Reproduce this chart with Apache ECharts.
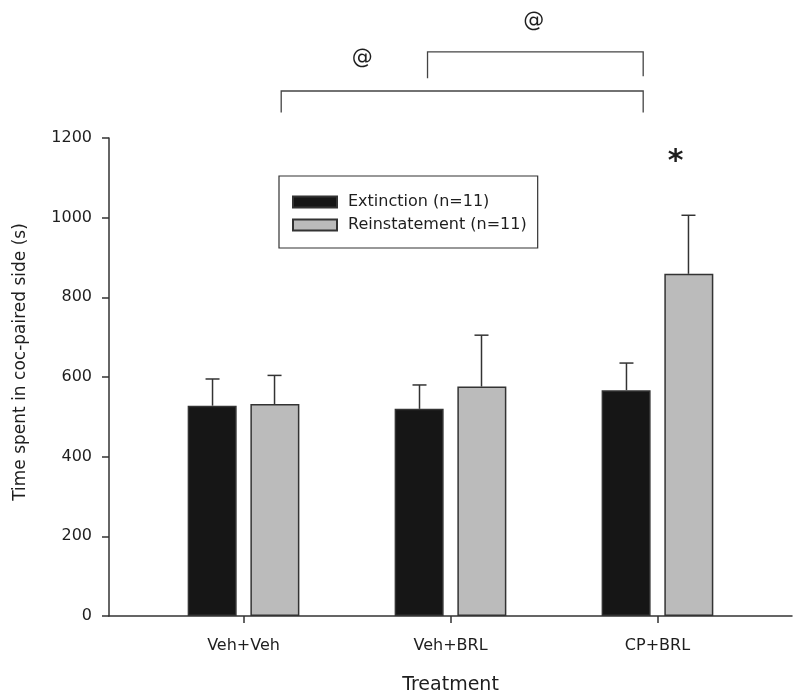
<!DOCTYPE html>
<html>
<head>
<meta charset="utf-8">
<script src="https://cdn.jsdelivr.net/npm/echarts@6/dist/echarts.min.js"></script>
<style>
  html, body { margin: 0; padding: 0; background: #fff; }
  #chart { width: 800px; height: 697px; }
</style>
</head>
<body>
<div id="chart"></div>
<script>
// data
const treatments = ['Veh+Veh', 'Veh+BRL', 'CP+BRL'];
const extinction = [528, 520, 567];
const extinctionTop = [595, 580, 635];     // mean + SEM
const reinstatement = [532, 576, 859];
const reinstatementTop = [604, 705, 1006]; // mean + SEM
const yTicks = [0, 200, 400, 600, 800, 1000, 1200];

// significance brackets: [x from, x to, y of bar, y of left leg end, y of right leg end]
const brackets = [
  [1.182, 2.931, 1318, 1264, 1264],
  [1.889, 2.931, 1416, 1350, 1355]
];
const marksX = [1.574, 2.402, 3.087];
const marksY = [1400, 1493, 1140];
const marksText = ['@', '@', '*'];

const font = 'DejaVu Sans';
const ink = '#1e1e1e';
const halfOffset = 31; // px from category centre to bar centre

let chart = echarts.init(document.getElementById('chart'));

function pos(i) { return i + 1; }

function errorSeries(name, means, tops, sign) {
  return {
    type: 'custom',
    name: name + ' err',
    clip: false,
    z: 3,
    data: means.map((m, i) => [pos(i), m, tops[i]]),
    renderItem: function (params, api) {
      const a = api.coord([api.value(0), api.value(1)]);
      const b = api.coord([api.value(0), api.value(2)]);
      const x = a[0] + sign * halfOffset;
      return {
        type: 'group',
        children: [
          { type: 'line', shape: { x1: x, y1: a[1], x2: x, y2: b[1] }, style: { stroke: '#333', lineWidth: 1.5 } },
          { type: 'line', shape: { x1: x - 7, y1: b[1], x2: x + 7, y2: b[1] }, style: { stroke: '#333', lineWidth: 1.5 } }
        ]
      };
    }
  };
}

let option = {
  animation: false,
  backgroundColor: '#fff',
  textStyle: { fontFamily: font, color: ink },
  grid: { left: 109, right: 8, top: 138, bottom: 81, containLabel: false, outerBoundsMode: 'none' },
  legend: {
    orient: 'vertical',
    left: 279,
    top: 176,
    padding: [18, 11, 15, 13],
    itemGap: 7,
    itemWidth: 44,
    itemHeight: 11,
    icon: 'rect',
    borderColor: '#333',
    borderWidth: 1.2,
    borderRadius: 0,
    textStyle: { fontFamily: font, fontSize: 16, color: ink, padding: [0, 0, 0, 6] },
    data: ['Extinction (n=11)', 'Reinstatement (n=11)']
  },
  xAxis: {
    type: 'value',
    min: 0.35,
    max: 3.65,
    splitLine: { show: false },
    axisLine: { lineStyle: { color: '#333', width: 1.5 } },
    axisTick: { customValues: [1, 2, 3], length: 7, lineStyle: { color: '#333', width: 1.5 } },
    axisLabel: {
      customValues: [1, 2, 3],
      margin: 22,
      fontFamily: font,
      fontSize: 16,
      color: ink,
      formatter: v => treatments[Math.round(v) - 1]
    },
    name: 'Treatment',
    nameLocation: 'middle',
    nameGap: 60,
    nameTextStyle: { fontFamily: font, fontSize: 19, color: ink }
  },
  yAxis: {
    type: 'value',
    min: yTicks[0],
    max: yTicks[yTicks.length - 1],
    interval: 200,
    splitLine: { show: false },
    axisLine: { show: true, lineStyle: { color: '#333', width: 1.5 } },
    axisTick: { show: true, length: 7, lineStyle: { color: '#333', width: 1.5 } },
    axisLabel: { margin: 17, fontFamily: font, fontSize: 16, color: ink, formatter: v => String(v) },
    name: 'Time spent in coc-paired side (s)',
    nameLocation: 'middle',
    nameGap: 80,
    nameTextStyle: { fontFamily: font, fontSize: 17, color: ink, padding: [0, 0, 0, 30] }
  },
  series: [
    {
      type: 'bar',
      name: 'Extinction (n=11)',
      barWidth: 49,
      barGap: '28%',
      itemStyle: { color: '#161616', borderColor: '#333', borderWidth: 1.5 },
      data: extinction.map((v, i) => [pos(i), v])
    },
    {
      type: 'bar',
      name: 'Reinstatement (n=11)',
      barWidth: 49,
      barGap: '28%',
      itemStyle: { color: '#bbbbbb', borderColor: '#333', borderWidth: 1.5 },
      data: reinstatement.map((v, i) => [pos(i), v])
    },
    errorSeries('Extinction', extinction, extinctionTop, -1),
    errorSeries('Reinstatement', reinstatement, reinstatementTop, 1),
    {
      type: 'custom',
      name: 'brackets',
      clip: false,
      data: brackets,
      renderItem: function (params, api) {
        const l = api.coord([api.value(0), api.value(3)]);
        const tl = api.coord([api.value(0), api.value(2)]);
        const tr = api.coord([api.value(1), api.value(2)]);
        const r = api.coord([api.value(1), api.value(4)]);
        return {
          type: 'polyline',
          shape: { points: [l, tl, tr, r] },
          style: { stroke: '#444', lineWidth: 1.3, fill: null }
        };
      }
    },
    {
      type: 'custom',
      name: 'marks',
      clip: false,
      data: marksX.map((x, i) => [x, marksY[i]]),
      renderItem: function (params, api) {
        const p = api.coord([api.value(0), api.value(1)]);
        const t = marksText[params.dataIndex];
        return {
          type: 'text',
          x: p[0],
          y: p[1],
          style: {
            text: t,
            align: 'center',
            verticalAlign: 'middle',
            fontFamily: font,
            fontSize: t === '*' ? 30 : 21,
            fontWeight: t === '*' ? 'bold' : 'normal',
            fill: ink
          }
        };
      }
    }
  ]
};

chart.setOption(option);
</script>
</body>
</html>
